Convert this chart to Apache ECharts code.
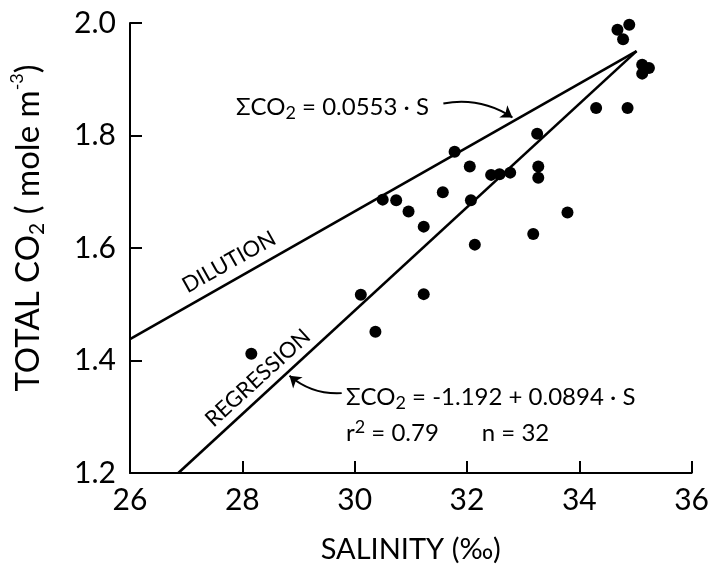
<!DOCTYPE html>
<html>
<head>
<meta charset="utf-8">
<script src="https://cdn.jsdelivr.net/npm/echarts@6/dist/echarts.min.js"></script>
<style>html,body{margin:0;background:#fff}#chart{width:712px;height:570px}</style>
</head>
<body>
<div id="chart"></div>
<script>
// salinity (per mil) and total CO2 (mole m-3)
var salinity = [28.16, 30.11, 30.37, 30.50, 30.74, 30.96, 31.23, 31.23, 31.57, 31.78,
                32.05, 32.07, 32.14, 32.43, 32.58, 32.77, 33.18, 33.25, 33.27, 33.27,
                33.79, 34.30, 34.86, 34.68, 34.74, 34.89, 34.89, 34.78, 34.81, 35.12,
                35.24, 35.12];
var totalCO2 = [1.412, 1.517, 1.451, 1.686, 1.685, 1.665, 1.638, 1.518, 1.699, 1.771,
                1.745, 1.685, 1.606, 1.730, 1.731, 1.734, 1.625, 1.803, 1.745, 1.725,
                1.663, 1.849, 1.849, 1.988, 2.012, 2.012, 1.997, 1.971, 2.002, 1.926,
                1.920, 1.910];
var dilutionS = [26, 35.02];
var dilutionCO2 = [1.438, 1.950];
var regressionS = [26.86, 35.02];
var regressionCO2 = [1.2, 1.950];
var xTicks = [26, 28, 30, 32, 34, 36];
var yTicks = [1.2, 1.4, 1.6, 1.8, 2.0];
// arrow annotations: [fromS, fromCO2, toS, toCO2]
var arrowDilution = [31.58, 1.857, 32.81, 1.832];
var arrowRegression = [29.77, 1.342, 28.84, 1.373];

var font = 'Lato';
var myChart = echarts.init(document.getElementById('chart'));

var points = salinity.map(function (s, i) { return [s, totalCO2[i]]; });
var dil = dilutionS.map(function (s, i) { return [s, dilutionCO2[i]]; });
var reg = regressionS.map(function (s, i) { return [s, regressionCO2[i]]; });

var axisCommon = {
    axisLine: { lineStyle: { color: '#000', width: 2 } },
    axisTick: { inside: true, length: 12, lineStyle: { color: '#000', width: 2 } },
    splitLine: { show: false },
    axisLabel: { color: '#000', fontSize: 30, fontFamily: font }
};

option = {
    animation: false,
    backgroundColor: '#fff',
    grid: { left: 125, right: 17, top: 23, bottom: 97 },
    xAxis: Object.assign({}, axisCommon, {
        type: 'value',
        min: xTicks[0], max: xTicks[xTicks.length - 1], interval: 2,
        name: 'SALINITY (‰)',
        nameLocation: 'middle', nameGap: 62,
        nameTextStyle: { color: '#000', fontSize: 29, fontFamily: font },
        axisLabel: { color: '#000', fontSize: 30, fontFamily: font, margin: 12 }
    }),
    yAxis: Object.assign({}, axisCommon, {
        type: 'value',
        min: yTicks[0], max: yTicks[yTicks.length - 1], interval: 0.2,
        name: '{a|TOTAL CO}{b|2}{a| ( mole m}{c|-3}{a|)}',
        nameLocation: 'middle', nameGap: 82,
        nameTextStyle: {
            color: '#000', fontFamily: font, padding: [0, 0, 0, 40],
            rich: {
                a: { fontSize: 33, fontFamily: font, color: '#000', lineHeight: 40 },
                b: { fontSize: 21, fontFamily: font, color: '#000', verticalAlign: 'bottom', lineHeight: 40 },
                c: { fontSize: 18, fontFamily: font, color: '#000', verticalAlign: 'top', lineHeight: 40 }
            }
        },
        axisLabel: {
            color: '#000', fontSize: 30, fontFamily: font, margin: 14,
            formatter: function (v) { return v.toFixed(1); }
        }
    }),
    graphic: [
        {
            type: 'text', x: 236, y: 92,
            style: {
                text: '{a|ΣCO}{b|2}{a| = 0.0553 · S}',
                rich: {
                    a: { fontSize: 24, fontFamily: font, fill: '#000', lineHeight: 30 },
                    b: { fontSize: 18, fontFamily: font, fill: '#000', verticalAlign: 'bottom', lineHeight: 30 }
                }
            }
        },
        {
            type: 'text', x: 346, y: 382,
            style: {
                text: '{a|ΣCO}{b|2}{a| = -1.192 + 0.0894 · S}',
                rich: {
                    a: { fontSize: 24, fontFamily: font, fill: '#000', lineHeight: 30 },
                    b: { fontSize: 18, fontFamily: font, fill: '#000', verticalAlign: 'bottom', lineHeight: 30 }
                }
            }
        },
        {
            type: 'text', x: 346, y: 418,
            style: {
                text: '{a|r}{c|2}{a| = 0.79       n = 32}',
                rich: {
                    a: { fontSize: 24, fontFamily: font, fill: '#000', lineHeight: 30 },
                    c: { fontSize: 18, fontFamily: font, fill: '#000', verticalAlign: 'top', lineHeight: 30 }
                }
            }
        },
        {
            type: 'text', x: 229, y: 262, rotation: 0.511,
            style: { text: 'DILUTION', fontSize: 22, fontFamily: font, fill: '#000', align: 'center', verticalAlign: 'middle' }
        },
        {
            type: 'text', x: 258, y: 378, rotation: 0.738,
            style: { text: 'REGRESSION', fontSize: 22, fontFamily: font, fill: '#000', align: 'center', verticalAlign: 'middle' }
        }
    ],
    series: [
        {
            name: 'Dilution', type: 'line', data: dil, showSymbol: false, silent: true,
            lineStyle: { color: '#000', width: 2.6 }
        },
        {
            name: 'Regression', type: 'line', data: reg, showSymbol: false, silent: true,
            lineStyle: { color: '#000', width: 2.6 }
        },
        {
            name: 'Samples', type: 'scatter', data: points, symbolSize: 12,
            itemStyle: { color: '#000', opacity: 1 }
        },
        {
            type: 'lines', coordinateSystem: 'cartesian2d', silent: true,
            symbol: ['none', 'arrow'], symbolSize: 11,
            lineStyle: { color: '#000', width: 2, opacity: 1, curveness: 0.2 },
            data: [
                { coords: [[arrowDilution[0], arrowDilution[1]], [arrowDilution[2], arrowDilution[3]]] },
                { coords: [[arrowRegression[0], arrowRegression[1]], [arrowRegression[2], arrowRegression[3]]] }
            ]
        }
    ]
};
myChart.setOption(option);
</script>
</body>
</html>
